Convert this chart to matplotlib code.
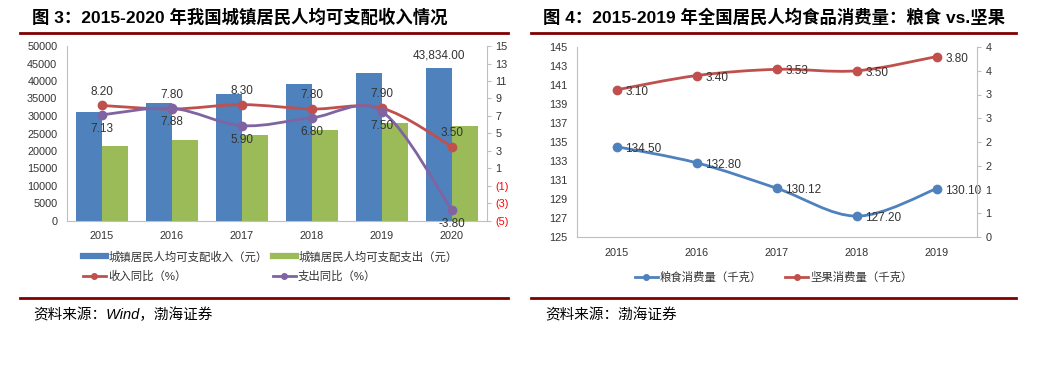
import numpy as np
import matplotlib

matplotlib.use("Agg")
import matplotlib.pyplot as plt
from matplotlib.lines import Line2D
from matplotlib.patches import PathPatch
from matplotlib.path import Path

plt.rcParams["font.family"] = ["Liberation Sans", "Noto Sans CJK SC"]

# ---- data: left chart (图 3) ----
years_left = ["2015", "2016", "2017", "2018", "2019", "2020"]
income = [31195, 33616, 36396, 39251, 42359, 43834]
spending = [21392, 23079, 24445, 26112, 28063, 27007]
income_growth = [8.20, 7.80, 8.30, 7.80, 7.90, 3.50]
spending_growth = [7.13, 7.88, 5.90, 6.80, 7.50, -3.80]
growth_ticks = [-5, -3, -1, 1, 3, 5, 7, 9, 11, 13, 15]
growth_tick_labels = ["(5)", "(3)", "(1)", "1", "3", "5", "7", "9", "11", "13", "15"]

# ---- data: right chart (图 4) ----
years_right = ["2015", "2016", "2017", "2018", "2019"]
grain = [134.50, 132.80, 130.12, 127.20, 130.10]
nuts = [3.10, 3.40, 3.53, 3.50, 3.80]
nut_ticks = [0, 0.5, 1, 1.5, 2, 2.5, 3, 3.5, 4]
nut_tick_labels = ["0", "1", "1", "2", "2", "3", "3", "4", "4"]

BLUE = "#4F81BD"
GREEN = "#9BBB59"
RED = "#C0504D"
PURPLE = "#8064A2"
RULE = "#800000"
SPINE = "#BFBFBF"
TXT = "#333333"

W, H = 1044, 368
fig = plt.figure(figsize=(W / 100, H / 100), dpi=100)


def px(x, y):
    return x / W, 1 - y / H


def ax_rect(x0, y0, x1, y1):
    return [x0 / W, 1 - y1 / H, (x1 - x0) / W, (y1 - y0) / H]


def smooth_path(xs, ys):
    """Excel-like smoothed line as cubic bezier segments."""
    pts = np.column_stack([xs, ys]).astype(float)
    n = len(pts)
    verts = [pts[0]]
    codes = [Path.MOVETO]
    for i in range(n - 1):
        p0 = pts[i - 1] if i > 0 else pts[i]
        p1, p2 = pts[i], pts[i + 1]
        p3 = pts[i + 2] if i + 2 < n else pts[i + 1]
        verts += [p1 + (p2 - p0) / 6, p2 - (p3 - p1) / 6, p2]
        codes += [Path.CURVE4] * 3
    return Path(verts, codes)


def smooth_line(ax, xs, ys, color):
    ax.add_patch(PathPatch(smooth_path(xs, ys), fill=False, edgecolor=color,
                           linewidth=2.0, capstyle="round", zorder=3))
    ax.plot(xs, ys, ls="none", marker="o", markersize=6, color=color, zorder=4)


def style_axes(ax, ax_r, pad_x):
    for s in ("top", "right"):
        ax.spines[s].set_visible(False)
    for s in ("top", "left", "bottom"):
        ax_r.spines[s].set_visible(False)
    ax.spines["left"].set_color(SPINE)
    ax.spines["bottom"].set_color(SPINE)
    ax_r.spines["right"].set_color(SPINE)
    ax.tick_params(axis="y", length=0, pad=7, labelsize=7.8, labelcolor=TXT)
    ax.tick_params(axis="x", length=0, pad=pad_x, labelsize=7.8, labelcolor=TXT)
    ax_r.tick_params(axis="y", length=3, width=0.8, color=SPINE, pad=3,
                     labelsize=7.8, labelcolor=TXT)


def header_footer(x0, x1, title, title_x, source, source_x):
    fig.text(*px(title_x, 17), title, fontsize=12.5, fontweight="bold",
             va="center", ha="left", color="black")
    for y in (33, 298):
        fig.add_artist(Line2D([x0 / W, x1 / W], [1 - y / H, 1 - y / H],
                              color=RULE, linewidth=2.0))
    fig.text(*px(source_x, 315), source, fontsize=10.5, style="italic",
             va="center", ha="left", color="black")


# ================= left chart =================
ax1 = fig.add_axes(ax_rect(67, 46, 487, 221))
x = np.arange(len(years_left))
bw = 0.365
ax1.bar(x - bw / 2, income, width=bw, color=BLUE, zorder=2)
ax1.bar(x + bw / 2, spending, width=bw, color=GREEN, zorder=2)
ax1.set_xlim(-0.5, len(years_left) - 0.5)
ax1.set_ylim(0, 50000)
ax1.set_yticks(range(0, 50001, 5000))
ax1.set_xticks(x)
ax1.set_xticklabels(years_left)
ax1.annotate(f"{income[-1]:,.2f}", (x[-1] - bw / 2, income[-1]),
             xytext=(0, 9), textcoords="offset points", ha="center",
             va="center", fontsize=8.5, color=TXT)

ax2 = ax1.twinx()
ax2.set_ylim(-5, 15)
ax2.set_yticks(growth_ticks)
ax2.set_yticklabels(growth_tick_labels)
style_axes(ax1, ax2, 7.5)
for lab, v in zip(ax2.get_yticklabels(), growth_ticks):
    if v < 0:
        lab.set_color("#FF0000")

smooth_line(ax2, x, income_growth, RED)
smooth_line(ax2, x, spending_growth, PURPLE)
for xi, v in zip(x, income_growth):
    ax2.annotate(f"{v:.2f}", (xi, v), xytext=(0, 10), textcoords="offset points",
                 ha="center", va="center", fontsize=8.5, color=TXT, zorder=5)
for xi, v in zip(x, spending_growth):
    ax2.annotate(f"{v:.2f}", (xi, v), xytext=(0, -10), textcoords="offset points",
                 ha="center", va="center", fontsize=8.5, color=TXT, zorder=5)

left_handles = [
    Line2D([], [], color=BLUE, lw=4.5),
    Line2D([], [], color=RED, lw=2, marker="o", markersize=4),
    Line2D([], [], color=GREEN, lw=4.5),
    Line2D([], [], color=PURPLE, lw=2, marker="o", markersize=4),
]
left_labels = ["城镇居民人均可支配收入（元）", "收入同比（%）",
               "城镇居民人均可支配支出（元）", "支出同比（%）"]
fig.legend(left_handles, left_labels, ncol=2, loc="upper left",
           bbox_to_anchor=px(83, 251), frameon=False, fontsize=8.2,
           borderpad=0, borderaxespad=0, handlelength=2.0,
           handletextpad=0.2, columnspacing=0.5, labelspacing=0.7,
           labelcolor=TXT)

header_footer(20, 508, "图 3：2015-2020 年我国城镇居民人均可支配收入情况", 32,
              "资料来源：Wind，渤海证券", 33)

# ================= right chart =================
ax3 = fig.add_axes(ax_rect(577, 47, 977, 237))
xr = np.arange(len(years_right))
ax3.set_xlim(-0.5, len(years_right) - 0.5)
ax3.set_ylim(125, 145)
ax3.set_yticks(range(125, 146, 2))
ax3.set_xticks(xr)
ax3.set_xticklabels(years_right)
smooth_line(ax3, xr, grain, BLUE)

ax4 = ax3.twinx()
ax4.set_ylim(0, 4)
ax4.set_yticks(nut_ticks)
ax4.set_yticklabels(nut_tick_labels)
style_axes(ax3, ax4, 8)
smooth_line(ax4, xr, nuts, RED)

for xi, v in zip(xr, grain):
    ax3.annotate(f"{v:.2f}", (xi, v), xytext=(6, -1.5), textcoords="offset points",
                 ha="left", va="center", fontsize=8.5, color=TXT, zorder=5)
for xi, v in zip(xr, nuts):
    ax4.annotate(f"{v:.2f}", (xi, v), xytext=(6, -1.5), textcoords="offset points",
                 ha="left", va="center", fontsize=8.5, color=TXT, zorder=5)

right_handles = [
    Line2D([], [], color=BLUE, lw=2, marker="o", markersize=4),
    Line2D([], [], color=RED, lw=2, marker="o", markersize=4),
]
fig.legend(right_handles, ["粮食消费量（千克）", "坚果消费量（千克）"], ncol=2,
           loc="center left", bbox_to_anchor=px(635, 277), frameon=False,
           fontsize=8.2, borderpad=0, borderaxespad=0, handlelength=2.0,
           handletextpad=0.2, columnspacing=2.0, labelcolor=TXT)

header_footer(531, 1016, "图 4：2015-2019 年全国居民人均食品消费量：粮食 vs.坚果", 543,
              "资料来源：渤海证券", 545)

fig.savefig("out.png", dpi=100)
